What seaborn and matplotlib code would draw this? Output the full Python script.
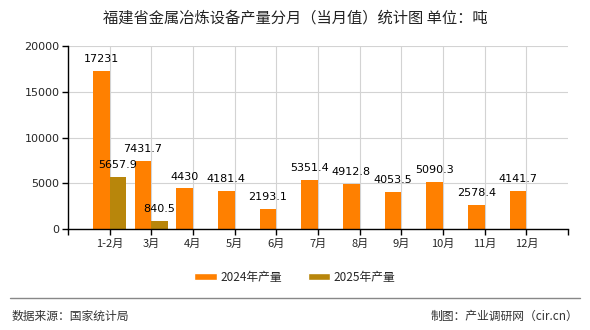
import matplotlib
matplotlib.use("Agg")
import matplotlib.pyplot as plt
import seaborn as sns
import pandas as pd
import numpy as np

categories = ["1-2月", "3月", "4月", "5月", "6月", "7月", "8月", "9月", "10月", "11月", "12月"]
values_2024 = [17231, 7431.7, 4430, 4181.4, 2193.1, 5351.4, 4912.8, 4053.5, 5090.3, 2578.4, 4141.7]
values_2025 = [5657.9, 840.5]
labels_2024 = ["17231", "7431.7", "4430", "4181.4", "2193.1", "5351.4", "4912.8", "4053.5", "5090.3", "2578.4", "4141.7"]
labels_2025 = ["5657.9", "840.5"]
series_names = ["2024年产量", "2025年产量"]
colors = ["#FF8000", "#B8860B"]
yticks = [0, 5000, 10000, 15000, 20000]

sns.set_theme(style="white")
plt.rcParams['font.family'] = ['Noto Sans CJK SC', 'DejaVu Sans']

rows = []
for c, v in zip(categories, values_2024):
    rows.append({"月份": c, "产量": v, "系列": series_names[0]})
for c, v in zip(categories[:len(values_2025)], values_2025):
    rows.append({"月份": c, "产量": v, "系列": series_names[1]})
df = pd.DataFrame(rows)

fig = plt.figure(figsize=(5.9, 3.3), dpi=100)
ax = fig.add_axes([68/590, 1-229/330, 500/590, 183/330])

sns.barplot(data=df, x="月份", y="产量", hue="系列", order=categories,
            hue_order=series_names, palette=colors, width=0.8, dodge=True,
            saturation=1, ax=ax, legend=False, zorder=2, linewidth=0, gap=0)

ax.set_xlim(-1, len(categories))
ax.set_ylim(0, 20000)
ax.set_yticks(yticks)
ax.set_yticklabels([str(t) for t in yticks], fontsize=8, family=['DejaVu Sans'])
ax.set_xticks(range(len(categories)))
ax.set_xticklabels(categories, fontsize=8)
ax.set_xlabel("")
ax.set_ylabel("")

# gridlines
ax.grid(True, axis='both', color='#d3d3d3', linewidth=0.8, zorder=0)
ax.set_axisbelow(True)
for sp in ["top", "right"]:
    ax.spines[sp].set_visible(False)
for sp in ["left", "bottom"]:
    ax.spines[sp].set_color("black")
    ax.spines[sp].set_linewidth(1)
ax.tick_params(axis='both', which='major', direction='out', length=4, color='black', width=1, pad=2, left=True, bottom=True)
ax.tick_params(axis='x', which='major', pad=3)
ax.set_xticks([-1, len(categories)], minor=True)
ax.tick_params(axis='x', which='minor', direction='out', length=4, color='black', width=1, bottom=True)

# value labels
containers = ax.containers
for cont, labs in zip(containers, [labels_2024, labels_2025]):
    for bar, lab in zip(cont, labs):
        bar.set_linewidth(0)
        ax.annotate(lab, (bar.get_x() + bar.get_width() / 2, bar.get_height()),
                    xytext=(0, 5), textcoords="offset points", ha="center", va="bottom",
                    fontsize=8, family=['DejaVu Sans'], color="black")

fig.text(0.5, 1 - 18/330, "福建省金属冶炼设备产量分月（当月值）统计图 单位：吨",
         ha="center", va="center", fontsize=11, color="#222222")

# legend
from matplotlib.patches import Patch
handles = [Patch(facecolor=c, label=n) for c, n in zip(colors, series_names)]
fig.legend(handles=handles, loc="center", bbox_to_anchor=(0.5, 1 - 277/330), ncol=2,
           frameon=False, fontsize=8.5, handlelength=1.9, handleheight=0.6, columnspacing=2.2,
           handletextpad=0.3)

# footer line
fig.add_artist(plt.Line2D([10/590, 580/590], [1 - 298/330, 1 - 298/330], color="#888888", linewidth=1))
fig.text(12/590, 1 - 316/330, "数据来源：国家统计局", ha="left", va="center", fontsize=8.5, color="#333333")
fig.text(578/590, 1 - 316/330, "制图：产业调研网（cir.cn）", ha="right", va="center", fontsize=8.5, color="#333333")

fig.savefig("out.png", dpi=100)
